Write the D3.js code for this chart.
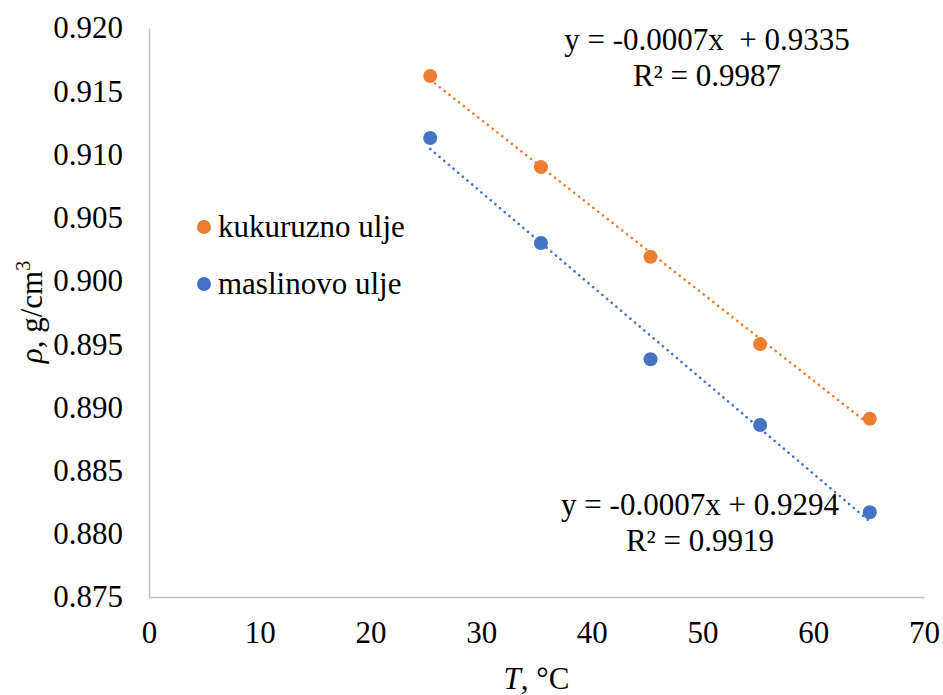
<!DOCTYPE html>
<html>
<head>
<meta charset="utf-8">
<script src="https://cdn.jsdelivr.net/npm/d3@7"></script>
<style>
  body { margin: 0; background: #fff; }
</style>
</head>
<body>
<div id="chart"></div>
<script>
// Width and height
var chart_width  = 943;
var chart_height = 695;
var FONT = "'Liberation Serif'";

// data
var temps      = [25.4, 35.4, 45.3, 55.2, 65.1];
var kukuruzno  = [0.9162, 0.9090, 0.9019, 0.8950, 0.8891];
var maslinovo  = [0.9113, 0.9030, 0.8938, 0.8886, 0.8817];
var seriesNames = ["kukuruzno ulje", "maslinovo ulje"];
var seriesColors = ["#ED7D31", "#4472C4"];
var eqLines = ["y = -0.0007x  + 0.9335", "y = -0.0007x + 0.9294"];
var r2Lines = ["R\u00B2 = 0.9987", "R\u00B2 = 0.9919"];
var xTicks = [0, 10, 20, 30, 40, 50, 60, 70];
var yTicks = [0.875, 0.880, 0.885, 0.890, 0.895, 0.900, 0.905, 0.910, 0.915, 0.920];

var x = d3.scaleLinear().domain([0, 70]).range([149, 924]);
var y = d3.scaleLinear().domain([0.875, 0.920]).range([597, 28]);

var svg = d3.select("#chart")
    .append("svg")
    .attr("width", chart_width)
    .attr("height", chart_height);

// axes
var xAxis = svg.append("g")
    .attr("transform", "translate(0," + y(0.875) + ")")
    .call(d3.axisBottom(x).tickValues(xTicks).tickSize(0).tickPadding(24).tickFormat(d3.format("d")));
var yAxis = svg.append("g")
    .attr("transform", "translate(" + x(0) + ",0)")
    .call(d3.axisLeft(y).tickValues(yTicks).tickSize(0).tickPadding(26).tickFormat(d3.format(".3f")));

[xAxis, yAxis].forEach(function(a){
  a.attr("font-family", null).attr("font-size", null);
  a.select(".domain").attr("stroke", "#bfbfbf").attr("stroke-width", 1.5);
  a.selectAll("text").style("font-family", FONT).style("font-size", "31px").attr("fill", "#000");
});

// linear fit for the trendlines
function fit(xs, ys) {
  var n = xs.length, mx = d3.mean(xs), my = d3.mean(ys);
  var sxy = 0, sxx = 0;
  for (var i = 0; i < n; i++) {
    sxy += (xs[i] - mx) * (ys[i] - my);
    sxx += (xs[i] - mx) * (xs[i] - mx);
  }
  var b = sxy / sxx;
  return { b: b, a: my - b * mx };
}

var allSeries = [kukuruzno, maslinovo];
allSeries.forEach(function(vals, k){
  var f = fit(temps, vals);
  var x0 = temps[0], x1 = temps[temps.length - 1];
  svg.append("line")
    .attr("x1", x(x0)).attr("y1", y(f.a + f.b * x0))
    .attr("x2", x(x1)).attr("y2", y(f.a + f.b * x1))
    .attr("stroke", seriesColors[k])
    .attr("stroke-width", 2.6)
    .attr("stroke-linecap", "round")
    .attr("stroke-dasharray", "0.1 6");
});

allSeries.forEach(function(vals, k){
  svg.selectAll(".pt" + k)
    .data(vals)
    .enter()
    .append("circle")
    .attr("cx", function(d, i){ return x(temps[i]); })
    .attr("cy", function(d){ return y(d); })
    .attr("r", 7)
    .attr("fill", seriesColors[k]);
});

function label(sel) {
  return sel.style("font-family", FONT).style("font-size", "31px").attr("fill", "#000");
}

// legend
var legend = svg.append("g");
seriesNames.forEach(function(name, k){
  var ly = 227 + k * 57;
  legend.append("circle").attr("cx", 204).attr("cy", ly).attr("r", 7).attr("fill", seriesColors[k]);
  label(legend.append("text").attr("x", 218).attr("y", ly + 10)).text(name);
});

// equation labels
var eqPos = [[707, 50], [700, 515]];
eqLines.forEach(function(t, k){
  label(svg.append("text").attr("x", eqPos[k][0]).attr("y", eqPos[k][1])
    .attr("text-anchor", "middle")).style("white-space", "pre").text(t);
  label(svg.append("text").attr("x", eqPos[k][0]).attr("y", eqPos[k][1] + 36)
    .attr("text-anchor", "middle")).text(r2Lines[k]);
});

// axis titles
var xt = label(svg.append("text").attr("x", x(35)).attr("y", 689).attr("text-anchor", "middle"));
xt.append("tspan").style("font-style", "italic").text("T");
xt.append("tspan").text(", \u00B0C");

var yt = label(svg.append("text")
    .attr("transform", "translate(42,312) rotate(-90)")
    .attr("text-anchor", "middle"));
yt.append("tspan").style("font-style", "italic").text("\u03C1");
yt.append("tspan").text(", g/cm");
yt.append("tspan").attr("dy", -12).style("font-size", "20px").text("3");
</script>
</body>
</html>
